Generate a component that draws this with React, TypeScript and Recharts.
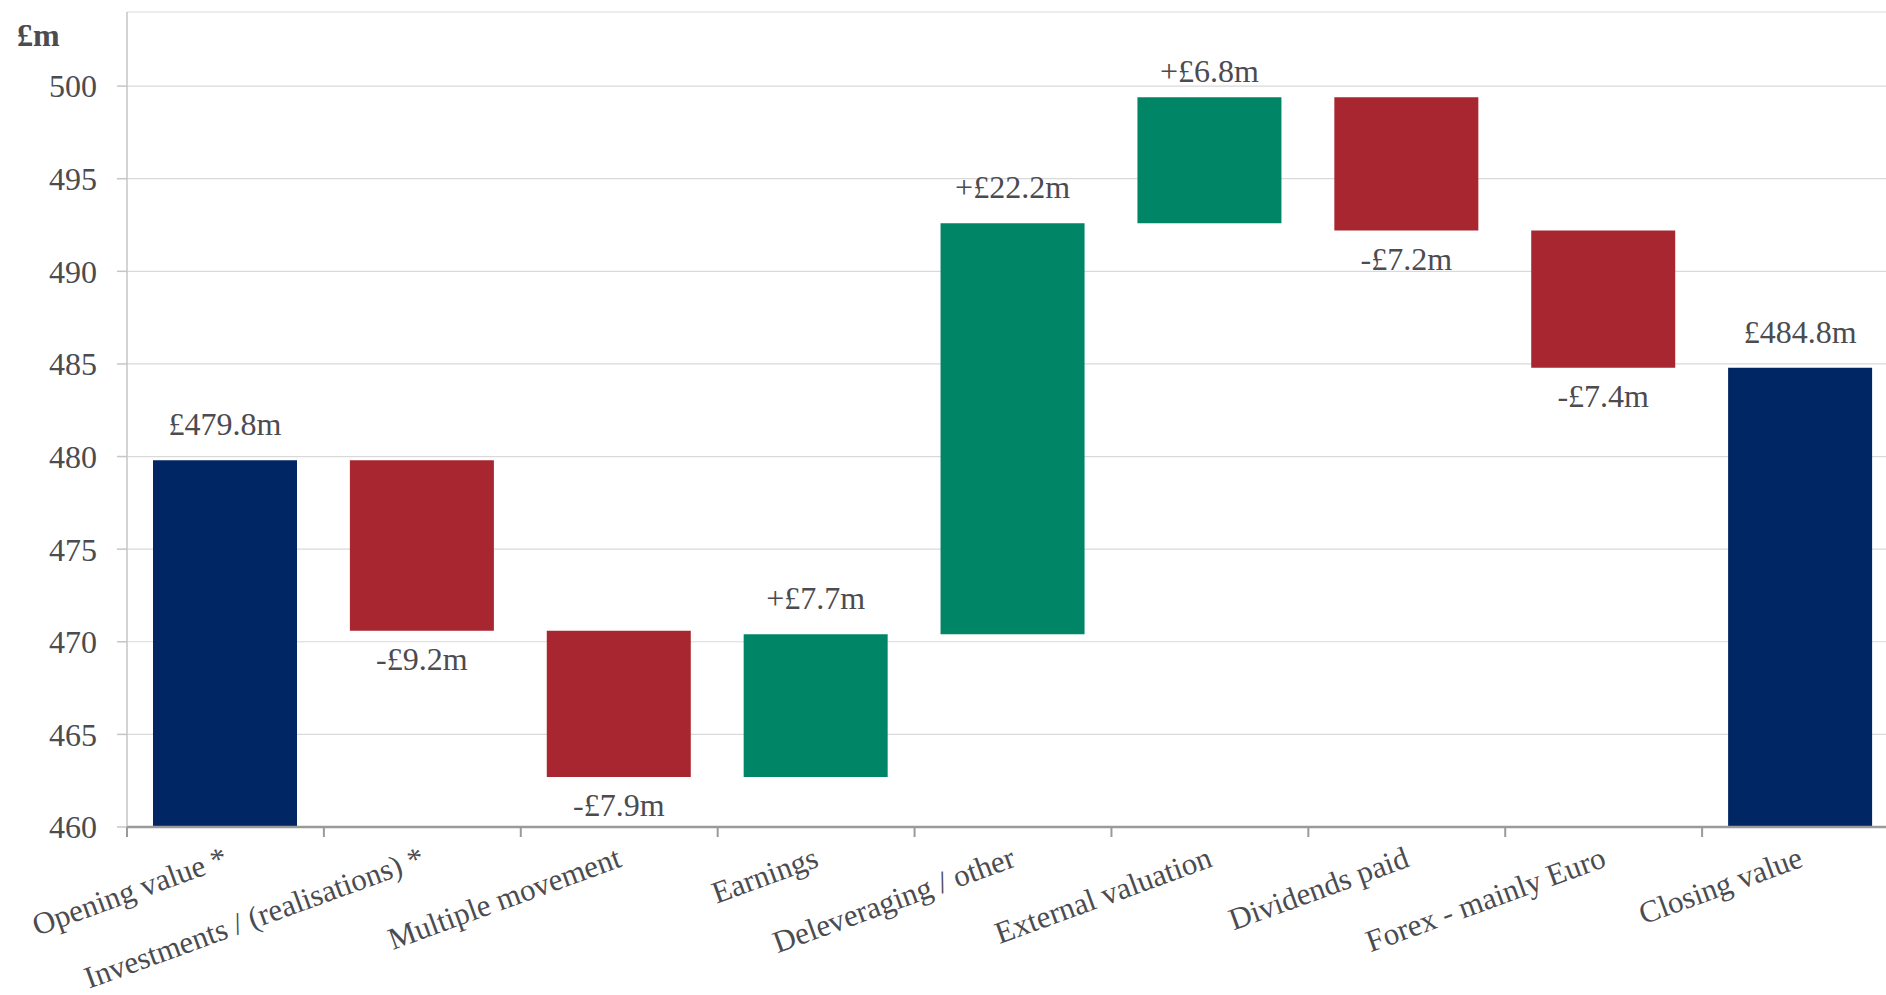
import React from 'react';
import { BarChart, Bar, XAxis, YAxis, CartesianGrid, Cell, LabelList } from 'recharts';

const categories = [
  'Opening value *',
  'Investments / (realisations) *',
  'Multiple movement',
  'Earnings',
  'Deleveraging / other',
  'External valuation',
  'Dividends paid',
  'Forex - mainly Euro',
  'Closing value',
];
const openingValue = 479.8;
const changes = [-9.2, -7.9, 7.7, 22.2, 6.8, -7.2, -7.4];
const closingValue = 484.8;
const yTicks = [460, 465, 470, 475, 480, 485, 490, 495, 500];

const BASE = 460;
const NAVY = '#002664';
const RED = '#A8262F';
const GREEN = '#008566';
const TEXT = '#4b4b50';
const FONT = '"Liberation Serif", "Times New Roman", serif';

type Row = { name: string; range: [number, number]; kind: 'total' | 'up' | 'down'; label: string };

const data: Row[] = (() => {
  const rows: Row[] = [];
  rows.push({ name: categories[0], range: [BASE, openingValue], kind: 'total', label: `£${openingValue.toFixed(1)}m` });
  let running = openingValue;
  changes.forEach((c, i) => {
    const next = running + c;
    rows.push({
      name: categories[i + 1],
      range: [Math.min(running, next), Math.max(running, next)],
      kind: c >= 0 ? 'up' : 'down',
      label: `${c >= 0 ? '+' : '-'}£${Math.abs(c).toFixed(1)}m`,
    });
    running = next;
  });
  rows.push({ name: categories[8], range: [BASE, closingValue], kind: 'total', label: `£${closingValue.toFixed(1)}m` });
  return rows;
})();

const colorFor = (k: Row['kind']) => (k === 'total' ? NAVY : k === 'up' ? GREEN : RED);

const ValueLabel = (props: any) => {
  const { x, y, width, height, index } = props;
  const row = data[index];
  if (!row) return null;
  const top = Math.min(y, y + height);
  const bottom = Math.max(y, y + height);
  const cx = x + width / 2;
  // labels above rising bars are kept clear of the top of the plot
  const ty = row.kind === 'down' ? bottom + 39 : Math.max(top - 25, 82);
  return (
    <text x={cx} y={ty} textAnchor="middle" fill={TEXT} fontSize={32} fontFamily={FONT}>
      {row.label}
    </text>
  );
};

const CategoryTick = (props: any) => {
  const { x, y, payload } = props;
  const half = payload && typeof payload.offset === 'number' && payload.offset > 0 ? payload.offset : 98.4;
  const ly = y + 39;
  return (
    <g>
      <line x1={x - half} x2={x - half} y1={y} y2={y + 10} stroke="#9a9a9a" strokeWidth={2} />
      <text
        x={x + 4}
        y={ly}
        transform={`rotate(-20, ${x + 4}, ${ly})`}
        textAnchor="end"
        fill={TEXT}
        fontSize={31}
        fontFamily={FONT}
      >
        {payload.value}
      </text>
    </g>
  );
};

export default function App() {
  return (
    <div
      style={{
        position: 'absolute',
        left: 0,
        top: 0,
        width: 1886,
        height: 995,
        overflow: 'hidden',
        background: '#fff',
      }}
    >
      <div
        style={{
          position: 'absolute',
          left: 17,
          top: 15,
          fontFamily: FONT,
          fontWeight: 'bold',
          fontSize: 32,
          color: TEXT,
          lineHeight: '40px',
        }}
      >
        £m
      </div>
      <BarChart
        width={1899}
        height={995}
        data={data}
        margin={{ top: 12, right: 0, bottom: 0, left: 0 }}
        barSize={144}
      >
        <CartesianGrid vertical={false} stroke="#d9d9d9" strokeWidth={1.2} />
        <YAxis
          type="number"
          domain={[460, 504]}
          ticks={yTicks}
          allowDataOverflow
          width={127}
          tickSize={10}
          tickMargin={20}
          axisLine={{ stroke: '#c6c6c6', strokeWidth: 1.5 }}
          tickLine={{ stroke: '#c6c6c6', strokeWidth: 1.5 }}
          tick={{ fill: TEXT, fontSize: 32, fontFamily: FONT }}
        />
        <XAxis
          dataKey="name"
          type="category"
          height={168}
          interval={0}
          tickSize={0}
          tickMargin={0}
          tickLine={false}
          axisLine={{ stroke: '#9a9a9a', strokeWidth: 2.5 }}
          tick={<CategoryTick />}
        />
        <Bar dataKey="range" isAnimationActive={false}>
          {data.map((d, i) => (
            <Cell key={i} fill={colorFor(d.kind)} />
          ))}
          <LabelList dataKey="label" content={<ValueLabel />} />
        </Bar>
      </BarChart>
    </div>
  );
}
